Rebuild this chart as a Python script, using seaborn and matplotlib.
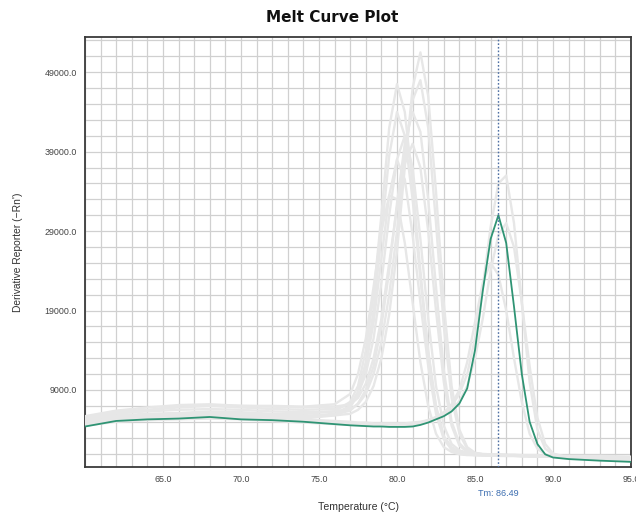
import numpy as np
import pandas as pd
import matplotlib
matplotlib.use("Agg")
import matplotlib.pyplot as plt
from matplotlib.ticker import FixedLocator, MultipleLocator
import seaborn as sns

# ---------------- data (values in thousands of -Rn') ----------------
TEMPS = [60, 62, 64, 66, 68, 70, 72, 74, 76, 77, 77.5, 78, 78.5, 79, 79.5, 80, 80.5,
         81, 81.5, 82, 82.5, 83, 83.5, 84, 84.5, 85, 85.5, 86, 86.5, 87, 87.5, 88,
         88.5, 89, 89.5, 90, 91, 93, 95]

GREEN = [4.4, 5.1, 5.3, 5.4, 5.6, 5.3, 5.2, 5.0, 4.7,
         4.55, 4.5, 4.45, 4.4, 4.4, 4.35, 4.35, 4.35, 4.4, 4.6, 4.9, 5.3, 5.7, 6.3,
         7.3, 9.2, 14.0, 21.5, 28.0, 31.0, 27.5, 19.5, 11.0, 5.0, 2.2, 0.9, 0.5,
         0.3, 0.1, -0.05]

A1 = [5.2, 5.8, 6.0, 6.1, 6.3, 6.2, 6.0, 6.0, 6.3,
      7.5, 9.5, 14.0, 21.0, 31.0, 42.0, 47.5, 44.0, 35.0, 24.0, 14.0, 7.0, 3.2, 1.8,
      1.2, 1.0, 0.9, 0.85, 0.8, 0.8, 0.8, 0.75, 0.75, 0.7, 0.7, 0.7, 0.7,
      0.65, 0.6, 0.5]
A2 = [5.0, 5.5, 5.7, 5.8, 6.0, 5.9, 5.8, 5.7, 6.0,
      7.0, 8.8, 12.5, 19.0, 28.5, 38.5, 44.0, 41.0, 33.0, 23.0, 13.5, 6.8, 3.0, 1.6,
      1.1, 0.9, 0.8, 0.8, 0.75, 0.75, 0.7, 0.7, 0.7, 0.65, 0.65, 0.6, 0.6,
      0.6, 0.5, 0.45]
A3 = [5.6, 6.3, 6.5, 6.8, 7.0, 6.8, 6.6, 6.5, 6.6,
      7.2, 8.5, 11.0, 15.5, 22.5, 31.0, 38.0, 41.0, 37.0, 28.0, 18.0, 9.5, 4.5, 2.2,
      1.4, 1.1, 1.0, 0.95, 0.9, 0.9, 0.85, 0.85, 0.8, 0.8, 0.8, 0.75, 0.75,
      0.7, 0.7, 0.6]
A4 = [4.8, 5.4, 5.6, 5.6, 5.8, 5.7, 5.5, 5.4, 5.8,
      6.8, 8.5, 12.0, 17.5, 25.5, 33.5, 38.0, 35.5, 28.5, 20.0, 12.0, 6.0, 2.8, 1.5,
      1.0, 0.85, 0.8, 0.75, 0.75, 0.7, 0.7, 0.7, 0.65, 0.65, 0.6, 0.6, 0.6,
      0.55, 0.5, 0.45]
A5 = [5.3, 6.0, 6.4, 7.0, 7.1, 7.0, 7.0, 6.9, 7.2,
      8.5, 11.0, 15.5, 22.0, 29.0, 33.5, 33.0, 27.5, 20.0, 12.5, 7.0, 3.5, 1.8, 1.2,
      0.9, 0.8, 0.8, 0.75, 0.75, 0.7, 0.7, 0.7, 0.65, 0.65, 0.6, 0.6, 0.6,
      0.55, 0.5, 0.45]
B1 = [5.0, 5.6, 5.9, 6.0, 6.1, 6.0, 5.9, 5.8, 5.8,
      6.0, 6.5, 7.5, 9.5, 13.0, 18.5, 26.5, 37.0, 47.0, 51.5, 46.0, 34.0, 20.0, 9.5,
      4.0, 1.8, 1.1, 0.9, 0.85, 0.8, 0.8, 0.75, 0.75, 0.7, 0.7, 0.7, 0.65,
      0.6, 0.55, 0.5]
B2 = [5.4, 6.1, 6.3, 6.5, 6.6, 6.5, 6.3, 6.2, 6.3,
      6.6, 7.2, 8.5, 11.0, 15.0, 21.0, 29.0, 38.5, 45.5, 48.0, 42.0, 30.0, 17.0, 8.0,
      3.5, 1.6, 1.0, 0.9, 0.85, 0.8, 0.8, 0.8, 0.75, 0.75, 0.7, 0.7, 0.7,
      0.65, 0.6, 0.55]
B3 = [4.9, 5.5, 5.7, 5.9, 6.0, 5.9, 5.7, 5.6, 5.9,
      6.4, 7.3, 9.0, 12.0, 17.0, 24.0, 32.5, 40.0, 44.0, 41.5, 33.0, 22.0, 11.5, 5.0,
      2.3, 1.3, 1.0, 0.9, 0.85, 0.8, 0.8, 0.75, 0.75, 0.7, 0.7, 0.7, 0.65,
      0.6, 0.55, 0.5]
B4 = [5.7, 6.4, 6.8, 7.1, 7.2, 7.0, 6.9, 6.8, 6.9,
      7.2, 8.0, 9.8, 13.0, 18.0, 25.0, 32.0, 37.5, 40.0, 37.0, 29.0, 19.0, 10.0, 4.5,
      2.0, 1.2, 0.9, 0.85, 0.8, 0.8, 0.75, 0.75, 0.7, 0.7, 0.7, 0.65, 0.65,
      0.6, 0.55, 0.5]
C1 = [4.6, 5.2, 5.4, 5.5, 5.6, 5.5, 5.3, 5.1, 4.9,
      4.8, 4.7, 4.7, 4.6, 4.6, 4.6, 4.6, 4.6, 4.7, 4.9, 5.2, 5.6, 6.2, 7.0,
      8.5, 11.0, 15.5, 22.0, 29.5, 35.0, 36.0, 30.0, 20.0, 10.0, 4.0, 1.6, 0.9,
      0.5, 0.3, 0.2]
C2 = [4.9, 5.5, 5.6, 5.8, 5.9, 5.7, 5.5, 5.3, 5.1,
      5.0, 4.9, 4.9, 4.8, 4.8, 4.8, 4.8, 4.8, 4.9, 5.0, 5.2, 5.5, 5.8, 6.5,
      7.6, 9.5, 13.0, 18.0, 24.0, 28.5, 30.0, 27.0, 20.0, 12.0, 5.5, 2.2, 1.0,
      0.5, 0.3, 0.2]
C3 = [4.5, 5.0, 5.2, 5.3, 5.4, 5.3, 5.1, 4.9, 4.7,
      4.6, 4.6, 4.5, 4.5, 4.5, 4.5, 4.5, 4.5, 4.6, 4.8, 5.1, 5.5, 6.0, 7.2,
      9.0, 12.5, 17.5, 22.5, 25.0, 23.5, 19.0, 13.0, 7.5, 3.5, 1.6, 0.9, 0.6,
      0.4, 0.3, 0.2]

GREY_WELLS = {"A1": A1, "A2": A2, "A3": A3, "A4": A4, "A5": A5,
              "B1": B1, "B2": B2, "B3": B3, "B4": B4,
              "C1": C1, "C2": C2, "C3": C3}

TM = 86.49
X_TICKS = [65, 70, 75, 80, 85, 90, 95]
Y_TICKS = [9000, 19000, 29000, 39000, 49000]
Y_GRID = list(range(1000, 54000, 2000))

# ---------------- build tables ----------------
rows = []
for well, vals in GREY_WELLS.items():
    for t, v in zip(TEMPS, vals):
        rows.append({"temp": t, "value": v * 1000, "well": well})
grey_df = pd.DataFrame(rows)
green_df = pd.DataFrame({"temp": TEMPS, "value": [v * 1000 for v in GREEN]})

# ---------------- plot ----------------
sns.set_style("white")
plt.rcParams["font.family"] = ["Liberation Sans", "DejaVu Sans"]

W, H = 636, 518
fig = plt.figure(figsize=(W / 100, H / 100), dpi=100)
ax_l, ax_r, ax_t, ax_b = 85, 631, 37.3, 466.7
ax = fig.add_axes([ax_l / W, 1 - ax_b / H, (ax_r - ax_l) / W, (ax_b - ax_t) / H])

sns.lineplot(data=grey_df, x="temp", y="value", units="well", estimator=None,
             color="#e7e7e7", linewidth=1.7, ax=ax, zorder=3)
sns.lineplot(data=green_df, x="temp", y="value", color="#2f9474",
             linewidth=1.3, ax=ax, zorder=5)

ax.axvline(TM, color="#4d6fa3", linestyle=(0, (1.2, 1.4)), linewidth=1.0, zorder=6)

ax.set_xlim(60, 95)
ax.set_ylim(-660, 53400)

ax.set_xticks(X_TICKS)
ax.set_xticklabels([f"{t:.1f}" for t in X_TICKS])
ax.xaxis.set_minor_locator(MultipleLocator(1))
ax.set_yticks(Y_TICKS)
ax.set_yticklabels([f"{t:.1f}" for t in Y_TICKS])
ax.yaxis.set_minor_locator(FixedLocator(Y_GRID))

ax.grid(True, which="both", color="#d0d0d0", linewidth=0.9, zorder=0)
ax.set_axisbelow(True)
ax.tick_params(which="both", direction="out", length=3, width=0.8, color="#9a9a9a",
               labelsize=6.4, labelcolor="#444444", pad=3)
ax.tick_params(which="minor", labelsize=0)

for sp in ax.spines.values():
    sp.set_visible(True)
    sp.set_color("#3a3a3a")
    sp.set_linewidth(1.3)

ax.set_xlabel("Temperature (°C)", fontsize=7.6, color="#333333")
ax.xaxis.set_label_coords(0.5, (ax_b - 502) / (ax_b - ax_t))
ax.set_ylabel("Derivative Reporter (\u2212Rn')", fontsize=7.4, color="#333333")
ax.yaxis.set_label_coords((23 - ax_l) / (ax_r - ax_l), 0.5)

ax.text(TM, (ax_b - 494) / (ax_b - ax_t), f"Tm: {TM:.2f}", transform=ax.get_xaxis_transform(),
        ha="center", va="center", fontsize=6.5, color="#3b6db0")

fig.text(332 / W, 1 - 18 / H, "Melt Curve Plot", ha="center", va="center",
         fontsize=11, fontweight="bold", family="DejaVu Sans", color="#111111")

fig.savefig("out.png", dpi=100)
